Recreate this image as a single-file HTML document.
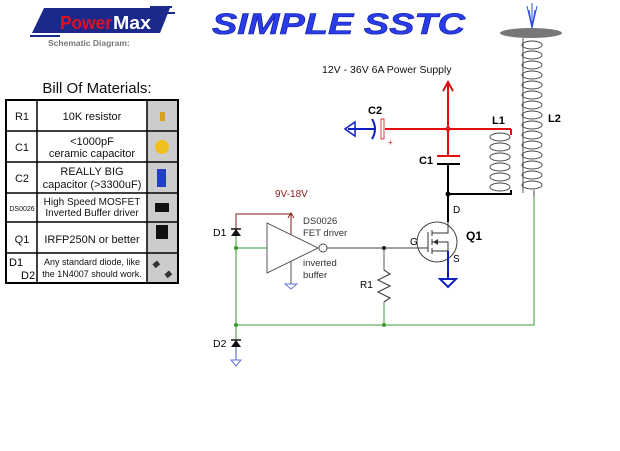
<!DOCTYPE html>
<html><head><style>
body{margin:0;background:#fff;width:620px;height:451px;overflow:hidden}
svg{display:block}
</style></head><body>
<svg width="620" height="451" viewBox="0 0 620 451" font-family="Liberation Sans, sans-serif">
<!-- logo -->
<polygon points="44,8 170,8 160,33 32,33" fill="#1b2a8a"/>
<line x1="150" y1="7" x2="172" y2="7" stroke="#1b2a8a" stroke-width="2"/>
<line x1="155" y1="13" x2="175" y2="13" stroke="#1b2a8a" stroke-width="2"/>
<line x1="30" y1="36" x2="60" y2="36" stroke="#1b2a8a" stroke-width="2"/>
<text x="60" y="29" font-size="18" font-weight="bold" fill="#e01020" textLength="52" lengthAdjust="spacingAndGlyphs">Power</text>
<text x="113" y="29" font-size="18" font-weight="bold" fill="#fff" textLength="38" lengthAdjust="spacingAndGlyphs">Max</text>
<text x="48" y="46" font-size="8.5" font-weight="bold" fill="#777">Schematic Diagram:</text>
<!-- title -->
<text x="212" y="34" font-size="30" font-weight="bold" font-style="italic" fill="#2a3be8" stroke="#1020a0" stroke-width="0.6" textLength="253" lengthAdjust="spacingAndGlyphs">SIMPLE SSTC</text>
<!-- BOM -->
<text x="97" y="93" font-size="15" text-anchor="middle" fill="#111">Bill Of Materials:</text>
<rect x="147" y="100" width="31" height="183" fill="#ccc"/>
<rect x="6" y="100" width="172" height="183" fill="none" stroke="#000" stroke-width="2"/>
<g stroke="#000" stroke-width="1.5">
<line x1="37" y1="100" x2="37" y2="283"/><line x1="147" y1="100" x2="147" y2="283"/>
<line x1="6" y1="131" x2="178" y2="131"/><line x1="6" y1="162" x2="178" y2="162"/>
<line x1="6" y1="193" x2="178" y2="193"/><line x1="6" y1="222" x2="178" y2="222"/>
<line x1="6" y1="253" x2="178" y2="253"/>
</g>
<g font-size="11" fill="#111" text-anchor="middle">
<text x="22" y="120">R1</text><text x="92" y="120">10K resistor</text>
<text x="22" y="151">C1</text><text x="92" y="145">&lt;1000pF</text><text x="92" y="157">ceramic capacitor</text>
<text x="22" y="182">C2</text><text x="92" y="175">REALLY BIG</text><text x="92" y="188">capacitor (&gt;3300uF)</text>
<text x="22" y="211" font-size="7">DS0026</text><text x="92" y="205" font-size="10">High Speed MOSFET</text><text x="92" y="216" font-size="10">Inverted Buffer driver</text>
<text x="22" y="243">Q1</text><text x="92" y="243">IRFP250N or better</text>
<text x="92" y="265" font-size="9">Any standard diode, like</text><text x="92" y="277" font-size="9">the 1N4007 should work.</text>
</g>
<text x="9" y="266" font-size="11">D1</text><text x="21" y="279" font-size="11">D2</text>
<rect x="160" y="112" width="5" height="9" fill="#d8a020"/>
<circle cx="162" cy="147" r="7" fill="#f0c020"/>
<rect x="157" y="169" width="9" height="18" fill="#2040c0"/>
<rect x="155" y="203" width="14" height="9" fill="#111"/>
<rect x="156" y="225" width="12" height="14" fill="#111"/>
<rect x="153" y="262" width="6" height="5" fill="#333" transform="rotate(-40 156 264)"/>
<rect x="165" y="272" width="6" height="5" fill="#333" transform="rotate(-40 168 274)"/>
<!-- Tesla top -->
<ellipse cx="531" cy="33" rx="31" ry="5" fill="#777"/>
<g stroke="#3050e0" stroke-width="1"><line x1="532" y1="28" x2="527" y2="6"/><line x1="532" y1="28" x2="532" y2="3"/><line x1="532" y1="28" x2="537" y2="6"/><line x1="532" y1="28" x2="529" y2="10"/><line x1="532" y1="28" x2="535" y2="10"/></g>
<!-- L2 -->
<g fill="none" stroke="#444" stroke-width="0.9">
<line x1="523" y1="38" x2="523" y2="193"/>
<ellipse cx="532" cy="45" rx="10" ry="4"/><ellipse cx="532" cy="55" rx="10" ry="4"/><ellipse cx="532" cy="65" rx="10" ry="4"/><ellipse cx="532" cy="75" rx="10" ry="4"/><ellipse cx="532" cy="85" rx="10" ry="4"/><ellipse cx="532" cy="95" rx="10" ry="4"/><ellipse cx="532" cy="105" rx="10" ry="4"/><ellipse cx="532" cy="115" rx="10" ry="4"/><ellipse cx="532" cy="125" rx="10" ry="4"/><ellipse cx="532" cy="135" rx="10" ry="4"/><ellipse cx="532" cy="145" rx="10" ry="4"/><ellipse cx="532" cy="155" rx="10" ry="4"/><ellipse cx="532" cy="165" rx="10" ry="4"/><ellipse cx="532" cy="175" rx="10" ry="4"/><ellipse cx="532" cy="185" rx="10" ry="4"/>
</g>
<text x="548" y="122" font-size="11" font-weight="bold">L2</text>
<!-- L1 -->
<g fill="none" stroke="#444" stroke-width="0.9">
<ellipse cx="500" cy="137" rx="10" ry="4"/><ellipse cx="500" cy="147" rx="10" ry="4"/><ellipse cx="500" cy="157" rx="10" ry="4"/><ellipse cx="500" cy="167" rx="10" ry="4"/><ellipse cx="500" cy="177" rx="10" ry="4"/><ellipse cx="500" cy="187" rx="10" ry="4"/>
</g>
<text x="492" y="124" font-size="11" font-weight="bold">L1</text>
<!-- supply -->
<text x="322" y="73" font-size="10.5" fill="#111">12V - 36V  6A Power Supply</text>
<g stroke="#e01010" stroke-width="2" fill="none">
<line x1="448" y1="82" x2="448" y2="155"/>
<polyline points="443,91 448,82 453,91"/>
<line x1="385" y1="129" x2="511" y2="129"/><line x1="511" y1="129" x2="511" y2="135"/>
<line x1="437" y1="156" x2="460" y2="156"/>
</g>
<circle cx="448" cy="129" r="2.5" fill="#e01010"/>
<rect x="381" y="119" width="3" height="20" fill="none" stroke="#e01010" stroke-width="0.8"/>
<text x="388" y="145" font-size="8" fill="#e01010">+</text>
<path d="M372,119 Q378,129 372,139" fill="none" stroke="#1020c0" stroke-width="2"/>
<line x1="348" y1="129" x2="375" y2="129" stroke="#1020c0" stroke-width="2"/>
<polygon points="345,129 355,122 355,136" fill="none" stroke="#1020c0" stroke-width="1.5"/>
<text x="368" y="114" font-size="11" font-weight="bold">C2</text>
<text x="419" y="164" font-size="11" font-weight="bold">C1</text>
<g stroke="#000" stroke-width="2" fill="none">
<line x1="437" y1="164" x2="460" y2="164"/>
<polyline points="448,164 448,194 511,194 511,190"/>
<line x1="448" y1="194" x2="448" y2="222"/>
</g>
<circle cx="448" cy="194" r="2.5" fill="#000"/>
<!-- MOSFET -->
<circle cx="437" cy="242" r="20" fill="none" stroke="#444" stroke-width="1"/>
<g stroke="#333" stroke-width="1" fill="none">
<line x1="418" y1="248" x2="428" y2="248"/><line x1="428" y1="232" x2="428" y2="252"/>
<line x1="432" y1="230" x2="432" y2="236"/><line x1="432" y1="239" x2="432" y2="245"/><line x1="432" y1="248" x2="432" y2="254"/>
<polyline points="432,233 448,233 448,222"/><polyline points="432,251 448,251 448,242 432,242"/>
</g>
<polygon points="433,242 438,239 438,245" fill="#333"/>
<text x="453" y="213" font-size="10">D</text><text x="453" y="262" font-size="10">S</text>
<text x="410" y="245" font-size="10">G</text>
<text x="466" y="240" font-size="12" font-weight="bold">Q1</text>
<g stroke="#1020c0" stroke-width="2" fill="none"><line x1="448" y1="251" x2="448" y2="279"/><polygon points="440,279 456,279 448,287"/></g>
<!-- driver -->
<g stroke="#444" stroke-width="0.9" fill="none">
<polygon points="267,223 267,273 318,248"/>
<circle cx="323" cy="248" r="4"/>
<line x1="327" y1="248" x2="418" y2="248"/>
<line x1="384" y1="248" x2="384" y2="270"/>
<polyline points="384,270 390,274 378,280 390,286 378,292 390,298 384,302" stroke-width="1.2"/>
<line x1="291" y1="261" x2="291" y2="284"/>
</g>
<polygon points="285,284 297,284 291,289" fill="none" stroke="#6070e0" stroke-width="0.9"/>
<g stroke="#8b1a1a" stroke-width="1" fill="none"><polyline points="236,229 236,214 291,214 291,235"/><polyline points="288,218 291,213 294,218"/></g>
<text x="275" y="197" font-size="10" fill="#8b1a1a">9V-18V</text>
<g font-size="9.5" fill="#333"><text x="303" y="224">DS0026</text><text x="303" y="236">FET driver</text><text x="303" y="266">inverted</text><text x="303" y="278">buffer</text></g>
<text x="360" y="288" font-size="10">R1</text>
<!-- green -->
<g stroke="#3a9a30" stroke-width="1" fill="none">
<polyline points="534,195 534,325 236,325"/>
<line x1="236" y1="236" x2="236" y2="340"/><line x1="236" y1="248" x2="267" y2="248"/>
<line x1="384" y1="302" x2="384" y2="325"/>
</g>
<line x1="534" y1="190" x2="534" y2="196" stroke="#444"/>
<circle cx="236" cy="248" r="2" fill="#3a9a30"/><circle cx="236" cy="325" r="2" fill="#3a9a30"/><circle cx="384" cy="325" r="2" fill="#3a9a30"/><circle cx="384" cy="248" r="2" fill="#222"/>
<!-- diodes -->
<polygon points="231,236 241,236 236,229" fill="#111"/><line x1="231" y1="229" x2="241" y2="229" stroke="#111" stroke-width="1.5"/>
<text x="213" y="236" font-size="10.5">D1</text>
<polygon points="231,347 241,347 236,340" fill="#111"/><line x1="231" y1="340" x2="241" y2="340" stroke="#111" stroke-width="1.5"/>
<line x1="236" y1="347" x2="236" y2="360" stroke="#3a5ac0"/>
<polygon points="231,360 241,360 236,366" fill="none" stroke="#6070e0"/>
<text x="213" y="347" font-size="10.5">D2</text>
</svg>
</body></html>
